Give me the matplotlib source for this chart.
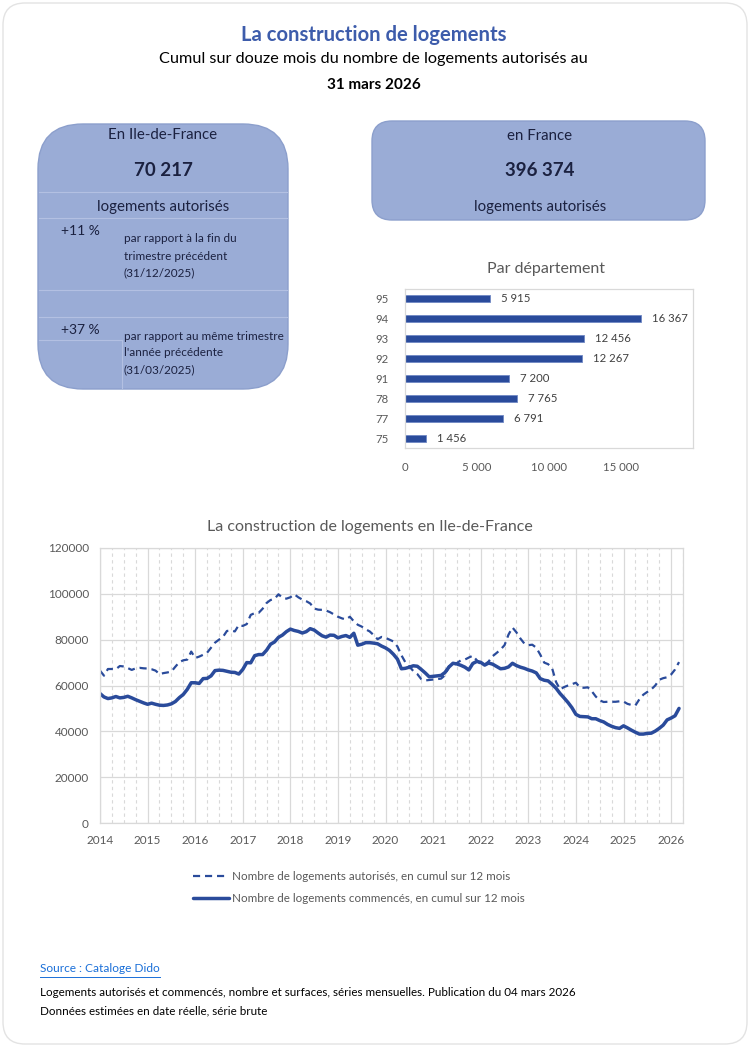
import matplotlib
matplotlib.use('Agg')
import matplotlib.pyplot as plt
import numpy as np
from matplotlib.patches import FancyBboxPatch

plt.rcParams['font.family'] = ['Lato', 'DejaVu Sans']

# --- data -----------------------------------------------------------------
DEPTS = ['95', '94', '93', '92', '91', '78', '77', '75']
DEPT_VALUES = [5915, 16367, 12456, 12267, 7200, 7765, 6791, 1456]

IDF_TOTAL = '70 217'
FR_TOTAL = '396 374'
EVOL_TRIM = '+11 %'
EVOL_AN = '+37 %'

START_YEAR = 2014  # monthly series, Jan 2014 -> Mar 2026
AUTORISES = [
    66500, 64300, 67200, 67200, 67100, 68500, 68300, 67600, 66800, 67500, 67700, 67500,
    67400, 67100, 66500, 65000, 65400, 65700, 66100, 68200, 70200, 71000, 71300, 74800,
    72000, 72600, 73400, 74300, 76500, 78700, 80000, 81200, 83800, 84000, 83600, 86400,
    86000, 86800, 90800, 91600, 91700, 93500, 96000, 97300, 97800, 99800, 98300, 97900,
    98500, 99800, 98500, 97500, 96800, 95800, 93600, 93100, 93000, 92700, 92000, 91000,
    90000, 89300, 88800, 90000, 88000, 86500, 85700, 84500, 83600, 82000, 80200, 81200,
    80800, 80000, 79200, 77000, 73200, 70100, 68300, 66300, 65000, 62800, 62200, 62400,
    62600, 62800, 63000, 64500, 68400, 68700, 69800, 71000, 71300, 72200, 73000, 71000,
    69300, 69100, 70500, 72800, 74200, 75700, 77600, 82200, 85300, 83200, 80500, 78300,
    77600, 77800, 76500, 73500, 70000, 69300, 67500, 61500, 58300, 59300, 60000, 60600,
    61200, 59200, 59000, 59200, 57500, 55200, 53500, 52800, 52900, 52900, 52900, 53100,
    53000, 52000, 51500, 51300, 54000, 56000, 57200, 58300, 60000, 62500, 63200, 63600,
    64800, 67000, 70217,
]
COMMENCES = [
    56500, 55000, 54300, 54600, 55200, 54600, 54800, 55300, 54600, 53800, 53100, 52400,
    51800, 52300, 51800, 51400, 51300, 51500, 52000, 53000, 54700, 56100, 58300, 61200,
    61200, 60900, 63000, 63100, 64200, 66500, 66700, 66600, 66200, 65800, 65700, 65000,
    67000, 70000, 69900, 73000, 73500, 73500, 75400, 78000, 79000, 81000, 82000, 83500,
    84600, 84000, 83600, 82900, 83500, 84800, 84200, 82900, 81700, 81100, 82000, 81900,
    80800, 81400, 81800, 81000, 82800, 77600, 78000, 78700, 78700, 78500, 78200, 77200,
    76400, 75300, 73600, 71500, 67300, 67500, 68000, 68600, 68400, 67000, 65500, 63800,
    64000, 64200, 64400, 65700, 68100, 69700, 69400, 68800, 68000, 66800, 69600, 70500,
    70100, 68900, 69800, 69300, 68300, 67300, 67500, 68100, 69700, 68700, 68000, 67500,
    66800, 66300, 65500, 63000, 62300, 62000, 60500, 58800, 56500, 54600, 52600, 50300,
    47400, 46500, 46400, 46300, 45500, 45500, 44700, 44100, 43000, 42200, 41600, 41300,
    42400, 41500, 40500, 39600, 38800, 38800, 39100, 39200, 40100, 41300, 42700, 45000,
    45800, 46800, 50000,
]

# --- styles ---------------------------------------------------------------
W, H = 750, 1047
BOX = '#9aacd6'
BOX_EDGE = '#8c9fcc'
CELL = '#b3c0e2'
NAVY = '#1b2140'
BLUE = '#2a4b9b'
TITLE_BLUE = '#3d5cab'
GREY = '#595959'
GRID = '#d9d9d9'
LINK = '#1a6fd8'


def fig_rect(x0, y0, x1, y1):
    """pixel box (top-left origin) -> figure fraction rect"""
    return [x0 / W, 1 - y1 / H, (x1 - x0) / W, (y1 - y0) / H]


fig = plt.figure(figsize=(W / 100, H / 100), dpi=100)

# overlay in pixel coords for the page furniture
bg = fig.add_axes([0, 0, 1, 1])
bg.set_xlim(0, W)
bg.set_ylim(H, 0)
bg.axis('off')

bg.add_patch(FancyBboxPatch((3, 3), W - 6, H - 6,
                            boxstyle='round,pad=0,rounding_size=22',
                            fc='white', ec='#e3e3e3', lw=1.0))

bg.text(374, 35, 'La construction de logements', ha='center', va='center',
        fontsize=14.6, fontweight='bold', color=TITLE_BLUE)
bg.text(373, 59, 'Cumul sur douze mois du nombre de logements autorisés au',
        ha='center', va='center', fontsize=11.7, color='black')
bg.text(374, 85, '31 mars 2026', ha='center', va='center', fontsize=11,
        fontweight='bold', color='black')

# Ile-de-France box
bg.add_patch(FancyBboxPatch((38, 124), 250, 265,
                            boxstyle='round,pad=0,rounding_size=45',
                            fc=BOX, ec=BOX_EDGE, lw=1.0))
for yy in [192, 218, 290, 317]:
    bg.plot([39, 287], [yy, yy], color=CELL, lw=0.8)
bg.plot([39, 122], [340, 340], color=CELL, lw=0.8)
bg.plot([122, 122], [340, 388], color=CELL, lw=0.8)

bg.text(163, 135, 'En Ile-de-France', ha='center', va='center',
        fontsize=10.8, color=NAVY)
bg.text(163, 171, IDF_TOTAL, ha='center', va='center', fontsize=13.5,
        fontweight='bold', color=NAVY)
bg.text(163, 207, 'logements autorisés', ha='center', va='center',
        fontsize=10.8, color=NAVY)
bg.text(80, 231, EVOL_TRIM, ha='center', va='center', fontsize=10, color=NAVY)
for yy, s in zip([239, 256, 273],
                 ['par rapport à la fin du', 'trimestre précédent', '(31/12/2025)']):
    bg.text(124, yy, s, ha='left', va='center', fontsize=8.5, color=NAVY)
bg.text(80, 330, EVOL_AN, ha='center', va='center', fontsize=10, color=NAVY)
for yy, s in zip([336, 353, 370],
                 ['par rapport au même trimestre', "l'année précédente", '(31/03/2025)']):
    bg.text(124, yy, s, ha='left', va='center', fontsize=8.5, color=NAVY)

# France box
bg.add_patch(FancyBboxPatch((372, 121), 333, 99,
                            boxstyle='round,pad=0,rounding_size=20',
                            fc=BOX, ec=BOX_EDGE, lw=1.0))
bg.text(540, 136, 'en France', ha='center', va='center', fontsize=10.8, color=NAVY)
bg.text(540, 171, FR_TOTAL, ha='center', va='center', fontsize=13.5,
        fontweight='bold', color=NAVY)
bg.text(540, 207, 'logements autorisés', ha='center', va='center',
        fontsize=10.8, color=NAVY)

bg.text(546, 269, 'Par département', ha='center', va='center',
        fontsize=11.5, color=GREY)
bg.text(370, 527, 'La construction de logements en Ile-de-France',
        ha='center', va='center', fontsize=11.5, color=GREY)

# footer
src = bg.text(40, 969, 'Source : Cataloge Dido', ha='left', va='center',
              fontsize=8.6, color=LINK)
bg.text(40, 992, 'Logements autorisés et commencés, nombre et surfaces, séries '
        'mensuelles. Publication du 04 mars 2026', ha='left', va='center',
        fontsize=8.4, color='black')
bg.text(40, 1011, 'Données estimées en date réelle, série brute', ha='left',
        va='center', fontsize=8.4, color='black')

# --- bar chart by département -------------------------------------------
axb = fig.add_axes(fig_rect(405, 289, 693, 448))
ypos = np.arange(len(DEPTS))
bars = axb.barh(ypos, DEPT_VALUES, height=0.35, color=BLUE, edgecolor='#6f88c4',
                linewidth=0.6)
axb.bar_label(bars, labels=[f'{v:,}'.replace(',', ' ') for v in DEPT_VALUES],
              padding=8, fontsize=8.2, color='#404040')
axb.set_yticks(ypos, DEPTS)
axb.set_ylim(len(DEPTS) - 0.5, -0.5)
axb.set_xlim(0, 20000)
axb.set_xticks([0, 5000, 10000, 15000], ['0', '5 000', '10 000', '15 000'])
axb.tick_params(length=0, labelsize=8.2, colors=GREY, pad=10)
axb.tick_params(axis='y', pad=12)
for sp in axb.spines.values():
    sp.set_color(GRID)
    sp.set_linewidth(0.9)

# --- line chart ------------------------------------------------------------
axl = fig.add_axes(fig_rect(100, 548, 683, 823))
x = START_YEAR + np.arange(len(AUTORISES)) / 12
axl.plot(x, AUTORISES, color=BLUE, lw=1.6, ls=(0, (3.2, 2.2)),
         label='Nombre de logements autorisés, en cumul sur 12 mois')
axl.plot(x, COMMENCES, color=BLUE, lw=2.5, solid_capstyle='round',
         label='Nombre de logements commencés, en cumul sur 12 mois')
axl.set_xlim(2014, 2026.25)
axl.set_ylim(0, 120000)
axl.set_yticks(np.arange(0, 120001, 20000))
axl.set_xticks(np.arange(2014, 2027))
axl.set_xticks(np.arange(2014, 2026.3, 0.25), minor=True)
axl.grid(which='major', color=GRID, lw=0.9)
axl.grid(which='minor', axis='x', color=GRID, lw=0.8, ls=(0, (3, 3)))
axl.set_axisbelow(True)
axl.tick_params(which='both', length=0, labelsize=8.5, colors=GREY)
axl.tick_params(axis='y', pad=8)
axl.tick_params(axis='x', pad=9)
for sp in axl.spines.values():
    sp.set_color(GRID)
    sp.set_linewidth(0.9)

axl.legend(loc='upper left', bbox_to_anchor=(188 / W, 1 - 866 / H),
           bbox_transform=fig.transFigure, frameon=False, fontsize=8.4,
           handlelength=3.1, handletextpad=0.3, labelspacing=0.95,
           labelcolor=GREY, borderaxespad=0)

# underline the source link to its rendered width
fig.canvas.draw()
bb = src.get_window_extent()
x_end = bb.x1 * W / fig.bbox.width
bg.plot([40, x_end], [976.5, 976.5], color=LINK, lw=0.7)

fig.savefig('out.png', dpi=100)
